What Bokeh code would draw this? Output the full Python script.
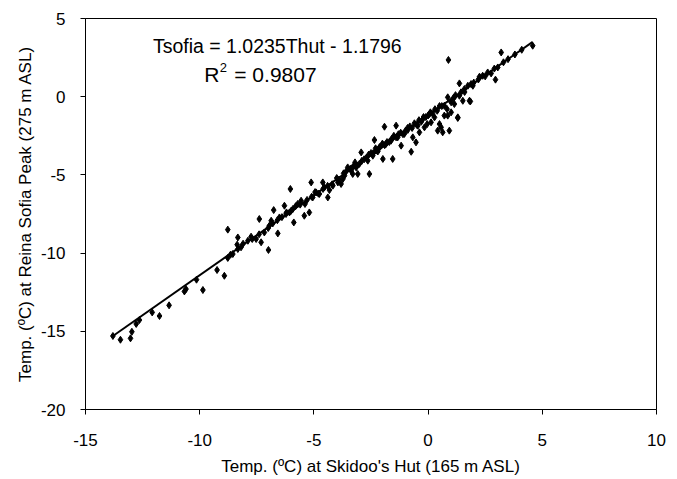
from bokeh.plotting import figure
from bokeh.models import Range1d, Label, FixedTicker
from bokeh.embed import file_html
from bokeh.resources import INLINE

# Skidoo's Hut temperature (x) and Reina Sofia Peak temperature (y), degC
t_hut = [
    -13.80, -13.47, -13.03, -12.97, -12.78, -12.64, -12.08, -11.76, -11.34, -10.67,
    -10.60, -10.14, -9.86, -9.24, -8.92, -8.77, -8.65, -8.77, -8.33, -8.36,
    -8.33, -8.55, -8.19, -7.89, -7.75, -7.53, -7.39, -7.31, -7.17, -6.99,
    -6.95, -6.87, -6.76, -6.58, -6.51, -6.29, -6.22, -6.07, -6.03, -5.92,
    -5.88, -5.71, -5.56, -5.42, -5.39, -5.20, -5.12, -5.05, -4.90, -4.76,
    -4.61, -4.54, -4.39, -4.32, -4.17, -3.95, -3.81, -3.66, -3.52, -3.37,
    -3.23, -3.08, -3.01, -3.73, -3.30, -3.15, -2.93, -2.57, -2.64, -2.42,
    -2.35, -2.28, -2.13, -1.98, -1.91, -1.84, -1.62, -1.55, -1.40, -1.33,
    -1.18, -1.04, -0.89, -0.74, -0.67, -0.53, -0.45, -0.38, -0.23, -0.16,
    -0.04, 0.06, 0.13, 0.28, 0.42, 0.50, 0.57, 0.64, 0.71, 0.83,
    0.86, 0.93, 1.01, 1.15, 1.30, 1.37, 1.52, 1.81, 0.89, 1.37,
    1.44, 1.59, 1.74, 1.85, 1.88, 1.96, 1.30, 0.86, 2.25, 2.39,
    2.61, 2.76, 2.95, 3.05, 3.20, 4.58, 0.71, 1.01, 1.15,
    -4.80, -4.60, -4.40, -4.20, -4.00, -3.90, -3.70, -3.60, -3.40, -3.30,
    -3.20, -3.10, -2.90, -2.80, -2.70, -2.60, -2.50, -2.40, -2.30, -2.20,
    -2.10, -2.00, -1.90, -1.80, -1.70, -1.60, -1.50, -1.40, -1.30, -1.20,
    -1.10, -1.00, -0.90, -0.80, -0.70, -0.60, -0.50, -0.40, -0.30, -0.20,
    -0.10, 0.00, 0.10, 0.20, 0.30, 0.40, 0.50, 0.60, 1.10, 1.20,
    1.60, 2.00, 2.20, 2.50, 2.90, 3.30, 3.50, 3.80, 4.10,
    -8.10, -7.70, -7.40, -7.00, -6.80, -6.60, -6.40, -6.20, -6.00, -5.80,
    -5.60, -5.30, -5.10, -4.95,
]
t_sofia = [
    -15.30, -15.54, -15.45, -15.03, -14.53, -14.28, -13.79, -14.02, -13.34, -12.45,
    -12.30, -11.70, -12.36, -11.08, -11.45, -10.31, -10.10, -8.50, -9.00, -9.46,
    -9.74, -10.06, -9.63, -9.21, -8.95, -9.10, -7.82, -9.31, -8.68, -9.80,
    -8.25, -7.93, -7.25, -8.74, -7.72, -6.97, -7.50, -7.40, -5.90, -7.18,
    -8.04, -6.86, -6.65, -7.61, -6.86, -7.40, -5.48, -6.44, -6.12, -6.22,
    -5.48, -5.80, -6.44, -5.97, -5.69, -5.48, -5.58, -5.05, -4.52, -4.73,
    -4.41, -4.94, -4.30, -5.26, -4.94, -4.52, -3.56, -4.94, -4.09, -3.77,
    -2.77, -3.45, -3.24, -3.98, -1.92, -3.02, -2.81, -3.98, -1.85, -2.60,
    -3.13, -2.38, -2.13, -3.52, -2.60, -2.92, -1.85, -2.28, -1.43, -1.96,
    -1.75, -1.11, -1.64, -1.32, -2.17, -1.75, -1.96, -2.28, -1.21, -0.79,
    -0.04, -2.17, -1.00, -0.47, -1.32, 0.06, -0.26, -0.26, 2.35, 0.85,
    0.28, 0.49, 0.70, -0.30, 0.81, 0.70, -1.36, -1.21, 1.28, 1.34,
    1.55, 1.49, 1.09, 1.87, 2.83, 3.26, -0.58, -0.36, -0.04,
    -6.20, -5.90, -5.70, -5.60, -5.20, -5.30, -4.90, -4.80, -4.60, -4.50,
    -4.20, -4.40, -4.10, -4.00, -3.90, -3.70, -3.60, -3.60, -3.30, -3.50,
    -3.20, -3.00, -3.10, -2.90, -2.90, -2.70, -2.50, -2.60, -2.40, -2.30,
    -2.40, -2.20, -2.00, -1.90, -2.00, -1.70, -1.80, -1.50, -1.60, -1.30,
    -1.30, -1.20, -1.00, -1.10, -0.80, -0.90, -0.60, -0.60, -0.10, 0.10,
    0.30, 0.90, 1.10, 1.30, 1.80, 2.20, 2.40, 2.70, 3.00,
    -9.40, -9.10, -8.80, -8.40, -8.10, -7.90, -7.70, -7.40, -7.30, -7.00,
    -6.90, -6.60, -6.40, -6.10,
]

# Linear trendline
slope = 1.0235
intercept = -1.1796
r_squared = 0.9807
trend_x = [min(t_hut), max(t_hut)]
trend_y = [slope * v + intercept for v in trend_x]

x_ticks = [-15, -10, -5, 0, 5, 10]
y_ticks = [-20, -15, -10, -5, 0, 5]

FONT = "Liberation Sans"

p = figure(width=675, height=479, output_backend="svg", toolbar_location=None,
           x_range=Range1d(-15, 10), y_range=Range1d(-20, 5),
           min_border_left=85, min_border_right=19, min_border_top=18,
           min_border_bottom=70)
p.grid.visible = False
p.background_fill_color = "white"
p.border_fill_color = "white"
p.outline_line_color = "black"
p.outline_line_width = 1

p.line(trend_x, trend_y, line_color="black", line_width=2)
p.scatter(t_hut, t_sofia, marker="diamond", size=7, fill_color="black",
          line_color="black")

for ax in (p.xaxis[0], p.yaxis[0]):
    ax.axis_line_color = "black"
    ax.major_tick_line_color = "black"
    ax.major_tick_in = 0
    ax.major_tick_out = 5
    ax.minor_tick_line_color = None
    ax.major_label_text_font = FONT
    ax.major_label_text_font_size = "17px"
    ax.major_label_text_color = "black"
    ax.axis_label_text_font = FONT
    ax.axis_label_text_font_size = "17px"
    ax.axis_label_text_font_style = "normal"
    ax.axis_label_text_color = "black"

p.xaxis[0].ticker = FixedTicker(ticks=x_ticks)
p.yaxis[0].ticker = FixedTicker(ticks=y_ticks)
p.xaxis[0].major_label_overrides = {t: str(t) for t in x_ticks}
p.yaxis[0].major_label_overrides = {t: str(t) for t in y_ticks}
p.xaxis[0].axis_label = "Temp. (ºC) at Skidoo's Hut (165 m ASL)"
p.yaxis[0].axis_label = "Temp. (ºC) at Reina Sofia Peak (275 m ASL)"
p.xaxis[0].major_label_standoff = 19
p.yaxis[0].major_label_standoff = 15
p.xaxis[0].axis_label_standoff = 8
p.yaxis[0].axis_label_standoff = 3

eq_text = f"Tsofia = {slope}Thut - {abs(intercept)}"
p.add_layout(Label(x=-12.05, y=3.25, text=eq_text,
                   text_font=FONT, text_font_size="19.5px", text_color="black",
                   text_baseline="middle"))
p.add_layout(Label(x=-9.8, y=1.45, text="R",
                   text_font=FONT, text_font_size="21px", text_color="black",
                   text_baseline="middle"))
p.add_layout(Label(x=-9.8, y=1.45, text="2", x_offset=15.5, y_offset=7,
                   text_font=FONT, text_font_size="13px", text_color="black",
                   text_baseline="middle"))
p.add_layout(Label(x=-9.8, y=1.45, text=f"= {r_squared}", x_offset=30,
                   text_font=FONT, text_font_size="21px", text_color="black",
                   text_baseline="middle"))

open("out.html", "w").write(file_html(p, INLINE))
